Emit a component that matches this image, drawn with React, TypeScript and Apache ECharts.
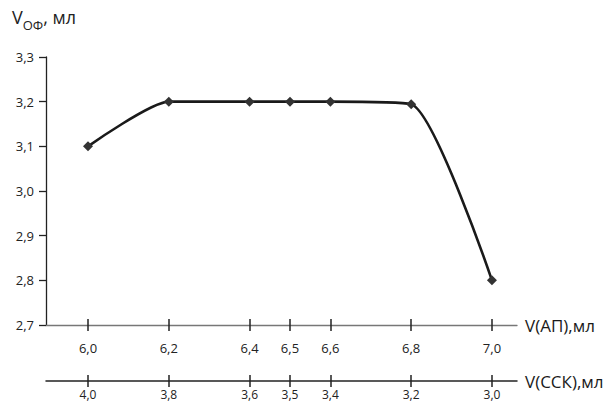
import React, { useEffect, useRef } from "react";
import * as echarts from "echarts";

const apValues = [6.0, 6.2, 6.4, 6.5, 6.6, 6.8, 7.0];
const sskValues = [4.0, 3.8, 3.6, 3.5, 3.4, 3.2, 3.0];
const vofValues = [3.1, 3.2, 3.2, 3.2, 3.2, 3.194, 2.8];

const AP_MIN = 5.896;
const AP_MAX = 7.062;
const SUM = 10;

const fmt = (v: number) => v.toFixed(1).replace(".", ",");
const FONT = "'Open Sans', 'Liberation Sans', sans-serif";

export default function App() {
  const ref = useRef<HTMLDivElement>(null);
  useEffect(() => {
    if (!ref.current) return;
    const chart = echarts.init(ref.current, null, { renderer: "svg" });
    const baseAxis = {
      type: "value" as const,
      position: "bottom" as const,
      splitLine: { show: false },
    };
    chart.setOption({
      animation: false,
      backgroundColor: "#ffffff",
      textStyle: { fontFamily: FONT },
      grid: { left: 46, right: 95, top: 57, bottom: 80, containLabel: false, outerBoundsMode: "none" },
      graphic: [
        {
          type: "text",
          left: 12,
          top: 8,
          style: {
            text: "{v|V}{s|ОФ}{v|, мл}",
            rich: {
              v: { fontSize: 18, fontFamily: FONT, fill: "#222", verticalAlign: "bottom", lineHeight: 26 },
              s: { fontSize: 13, fontFamily: FONT, fill: "#222", verticalAlign: "bottom", lineHeight: 18, padding: [0, 0, -5, 0] },
            },
          },
        },
      ],
      xAxis: [
        {
          ...baseAxis,
          min: AP_MIN,
          max: AP_MAX,
          name: "V(АП),мл",
          nameLocation: "end",
          nameGap: 8,
          nameTextStyle: { fontSize: 17, color: "#1a1a1a", fontFamily: FONT },
          axisLine: { show: true, onZero: false, lineStyle: { color: "#777", width: 1.3 } },
          axisTick: { show: true, inside: false, length: 6, customValues: apValues, lineStyle: { color: "#222", width: 1.5 } },
          axisLabel: { show: true, margin: 16, customValues: apValues, formatter: fmt, fontSize: 13, color: "#222", fontFamily: FONT },
        },
        {
          ...baseAxis,
          min: AP_MIN,
          max: AP_MAX,
          axisLine: { show: false, onZero: false },
          axisTick: { show: true, inside: true, length: 6, customValues: apValues, lineStyle: { color: "#222", width: 1.5 } },
          axisLabel: { show: false },
        },
        {
          ...baseAxis,
          min: SUM - AP_MAX,
          max: SUM - AP_MIN,
          inverse: true,
          offset: 56,
          name: "V(ССК),мл",
          nameLocation: "start",
          nameGap: 8,
          nameTextStyle: { fontSize: 17, color: "#1a1a1a", fontFamily: FONT, align: "left" },
          axisLine: { show: true, onZero: false, lineStyle: { color: "#222", width: 1.5 } },
          axisTick: { show: true, inside: false, length: 6, customValues: sskValues, lineStyle: { color: "#222", width: 1.5 } },
          axisLabel: { show: true, margin: 7, customValues: sskValues, formatter: fmt, fontSize: 12, color: "#222", fontFamily: FONT },
        },
        {
          ...baseAxis,
          min: SUM - AP_MAX,
          max: SUM - AP_MIN,
          inverse: true,
          offset: 56,
          axisLine: { show: false, onZero: false },
          axisTick: { show: true, inside: true, length: 6, customValues: sskValues, lineStyle: { color: "#222", width: 1.5 } },
          axisLabel: { show: false },
        },
      ],
      yAxis: {
        type: "value",
        min: 2.7,
        max: 3.3,
        interval: 0.1,
        splitLine: { show: false },
        axisLine: { show: true, onZero: false, lineStyle: { color: "#222", width: 1.3 } },
        axisTick: { show: true, inside: false, length: 7, lineStyle: { color: "#222", width: 1.3 } },
        axisLabel: { margin: 12, formatter: fmt, fontSize: 13, color: "#222", fontFamily: FONT },
      },
      series: [
        {
          type: "line",
          xAxisIndex: 0,
          data: apValues.map((x, i) => [x, vofValues[i]]),
          smooth: 0.2,
          symbol: "diamond",
          symbolSize: 10,
          itemStyle: { color: "#333" },
          lineStyle: { color: "#1a1a1a", width: 2.6 },
        },
      ],
    });
    return () => chart.dispose();
  }, []);
  return (
    <div
      ref={ref}
      style={{ position: "fixed", left: 0, top: 0, width: 612, height: 405 }}
    />
  );
}
